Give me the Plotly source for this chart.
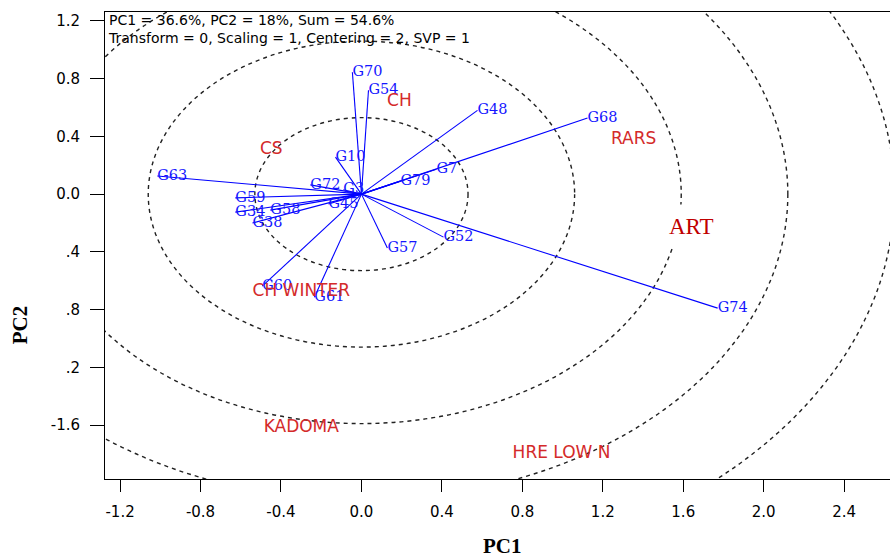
import plotly.graph_objects as go

# Genotype vector end points (PC1, PC2)
genotypes = ["G70", "G54", "G48", "G68", "G7", "G79", "G52", "G74", "G57", "G61",
             "G60", "G63", "G10", "G72", "G3", "G59", "G34", "G58", "G38", "G45"]
geno_pc1 = [-0.045, 0.035, 0.577, 1.124, 0.373, 0.194, 0.408, 1.771, 0.129, -0.234,
            -0.493, -1.015, -0.129, -0.254, -0.09, -0.627, -0.627, -0.453, -0.542, -0.164]
geno_pc2 = [0.845, 0.72, 0.58, 0.527, 0.173, 0.09, -0.298, -0.79, -0.374, -0.714,
            -0.638, 0.126, 0.256, 0.064, 0.03, -0.026, -0.125, -0.111, -0.2, -0.068]

# Environment labels
environments = ["CH", "CS", "RARS", "CH WINTER", "KADOMA", "HRE LOW N"]
env_pc1 = [0.189, -0.448, 1.353, -0.299, -0.299, 0.995]
env_pc2 = [0.637, 0.306, 0.374, -0.679, -1.621, -1.801]
ideal_label = "ART"
ideal_pc1 = 1.642
ideal_pc2 = -0.221

# Concentric circle radii
circle_radii = [0.53, 1.06, 1.59, 2.12, 2.65]

# Axis ticks
x_tickvals = [-1.2, -0.8, -0.4, 0.0, 0.4, 0.8, 1.2, 1.6, 2.0, 2.4]
x_ticktext = ["-1.2", "-0.8", "-0.4", "0.0", "0.4", "0.8", "1.2", "1.6", "2.0", "2.4"]
y_tickvals = [1.2, 0.8, 0.4, 0.0, -0.4, -0.8, -1.2, -1.6]
y_ticktext = ["1.2", "0.8", "0.4", "0.0", ".4", ".8", ".2", "-1.6"]

info_text = "PC1 = 36.6%, PC2 = 18%, Sum = 54.6%<br>Transform = 0, Scaling = 1, Centering = 2, SVP = 1"

fig = go.Figure()

# circles
for r in circle_radii:
    fig.add_shape(type="circle", xref="x", yref="y", x0=-r, y0=-r, x1=r, y1=r,
                  line=dict(color="#222222", width=1.4, dash="4px,4px"), layer="below")

# vectors
lx, ly = [], []
for x, y in zip(geno_pc1, geno_pc2):
    lx += [0, x, None]
    ly += [0, y, None]
fig.add_trace(go.Scatter(x=lx, y=ly, mode="lines", line=dict(color="#0000FF", width=1.1),
                         hoverinfo="skip", showlegend=False))

fig.add_trace(go.Scatter(x=geno_pc1, y=geno_pc2, mode="text", text=genotypes,
                         textposition="middle right",
                         textfont=dict(family="DejaVu Serif", size=14.5, color="#1515FF"),
                         showlegend=False))

fig.add_trace(go.Scatter(x=env_pc1, y=env_pc2, mode="text", text=environments,
                         textposition="middle center",
                         textfont=dict(family="DejaVu Sans", size=17, color="#D42A2A"),
                         showlegend=False))

fig.add_annotation(x=ideal_pc1, y=ideal_pc2, xref="x", yref="y", text=ideal_label,
                   showarrow=False, bgcolor="white", borderpad=9,
                   font=dict(family="Liberation Serif", size=23, color="#C00000"))

fig.add_annotation(x=0, y=1, xref="paper", yref="paper", xanchor="left", yanchor="top",
                   xshift=1, yshift=2, text=info_text, align="left", showarrow=False,
                   font=dict(family="DejaVu Sans", size=14, color="black"))

fig.add_annotation(x=0.506, y=-0.1735, xref="paper", yref="paper", text="<b>PC1</b>",
                   showarrow=False, font=dict(family="Liberation Serif", size=21, color="black"))
fig.add_annotation(x=-0.1262, y=0.285, xref="paper", yref="paper", text="<b>PC2</b>",
                   textangle=-90, showarrow=False,
                   font=dict(family="Liberation Serif", size=21, color="black"))

fig.update_layout(
    width=890, height=558,
    margin=dict(l=105, r=0, t=12, b=79),
    paper_bgcolor="white", plot_bgcolor="white",
    showlegend=False,
    xaxis=dict(range=[-1.275, 2.628], tickvals=x_tickvals, ticktext=x_ticktext,
               showgrid=False, zeroline=False, showline=True, linecolor="black", linewidth=1,
               mirror=True, ticks="outside", ticklen=12, tickcolor="black",
               tickfont=dict(family="DejaVu Sans", size=15, color="black"),
               ticklabelstandoff=7),
    yaxis=dict(range=[-1.974, 1.262], tickvals=y_tickvals, ticktext=y_ticktext,
               showgrid=False, zeroline=False, showline=True, linecolor="black", linewidth=1,
               mirror=False, ticks="outside", ticklen=14, tickcolor="black",
               tickfont=dict(family="DejaVu Sans", size=15, color="black"),
               ticklabelstandoff=7),
)

fig.write_html("out.html")
